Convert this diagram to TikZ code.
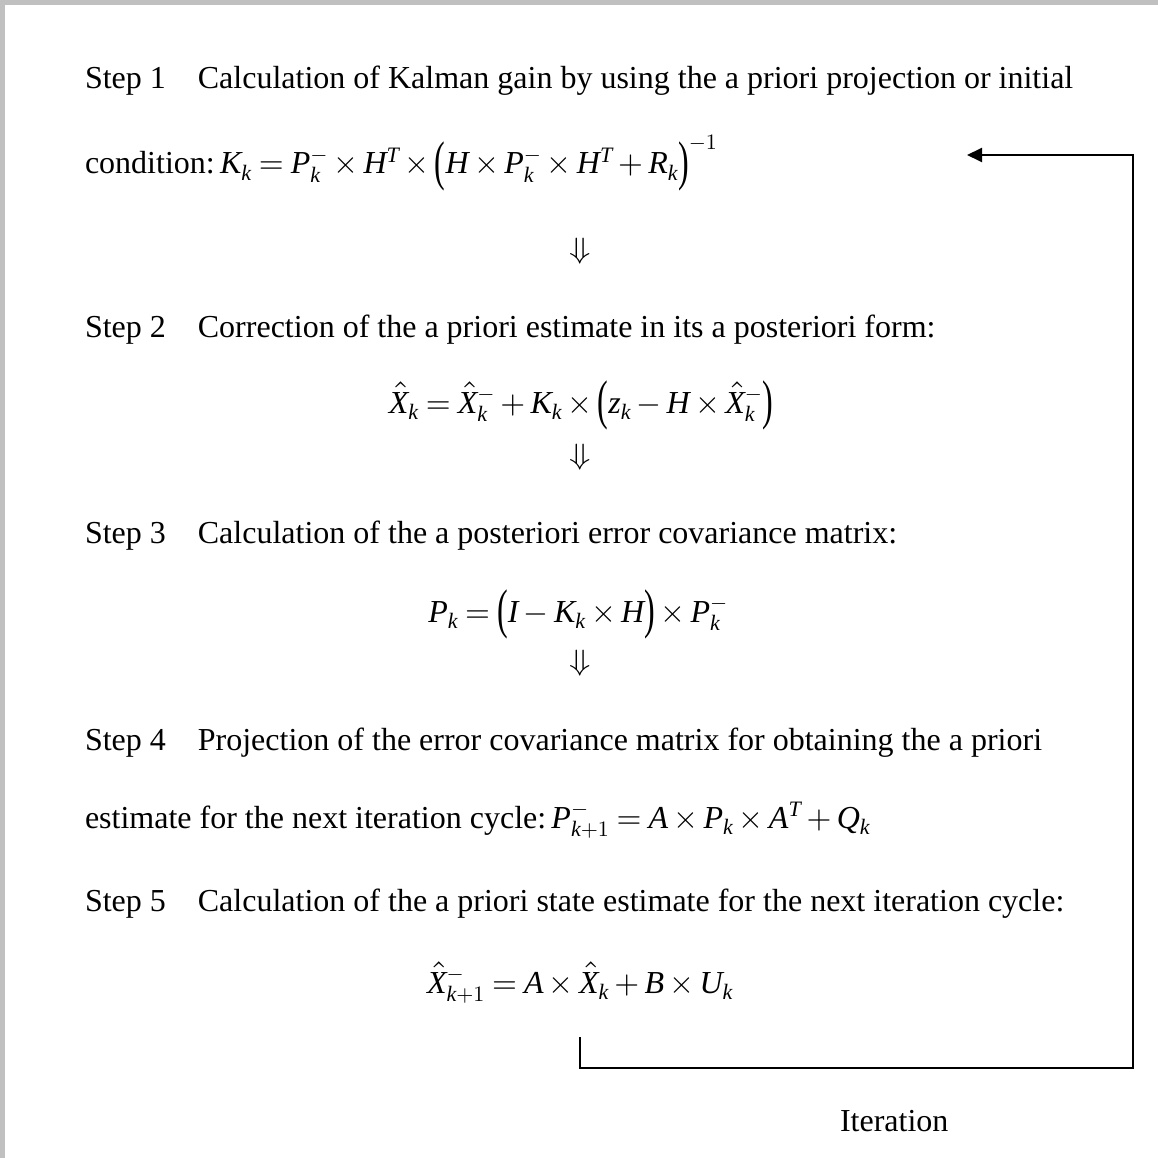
\documentclass[tikz,border=0pt]{standalone}
\usepackage{amsmath}
\usepackage{graphicx}
\usepackage{fontspec}
\setmainfont{Liberation Serif}[NFSSFamily=libser]
\DeclareSymbolFont{letters}{TU}{libser}{m}{it}
\DeclareFontShape{OMS}{cmsy}{m}{n}{<->cmsy10}{}
\DeclareFontShape{OT1}{cmr}{m}{n}{<->cmr10}{}
\DeclareFontShape{OML}{cmm}{m}{it}{<->cmmi10}{}
\DeclareMathSizes{32}{32}{22}{16}
\medmuskip=3mu plus 1mu minus 1mu
\thickmuskip=4mu plus 2mu
\everymath{\fontdimen16\textfont2=6.5pt \fontdimen17\textfont2=6.5pt }
\newcommand{\xhat}{\mathord{\ooalign{$X$\cr\hidewidth\kern4pt\smash{\raisebox{4pt}{\fontsize{40}{40}\usefont{OT1}{cmr}{m}{n}\char"5E}}\hidewidth\cr}}}
\newcommand{\lp}{\mathopen{\vcenter{\hbox{\scalebox{1}[1.7]{(}}}}}
\newcommand{\rp}{\mathclose{\vcenter{\hbox{\scalebox{1}[1.7]{)}}}}}
\newcommand{\dnarrow}{\scalebox{1.25}[1.05]{$\Downarrow$}}
\usetikzlibrary{arrows.meta}
\definecolor{framegray}{RGB}{192,192,192}
\begin{document}
\begin{tikzpicture}[x=1pt,y=-1pt,
  every node/.style={inner sep=0pt,outer sep=0pt,font=\fontsize{32}{38}\selectfont},
  txt/.style={anchor=base west},
  eqn/.style={anchor=base},
  darrow/.style={anchor=center,font=\fontsize{28}{34}\selectfont},
  flow/.style={line width=2pt,-{Triangle[length=15pt,width=14pt]}}]
\useasboundingbox (0,0) rectangle (1158,1158);
\fill[framegray] (0,0) rectangle (1158,5);
\fill[framegray] (0,0) rectangle (5,1158);

\node[txt] (s1) at (85,89) {Step 1\quad Calculation of Kalman gain by using the a priori projection or initial};
\node[txt] (s1b) at (85,174) {condition:\,$K_k = P_k^- \times H^T \times \lp H \times P_k^- \times H^T + R_k\rp^{-1}$};
\node[darrow] (d1) at (580,251) {\dnarrow};

\node[txt] (s2) at (85,337) {Step 2\quad Correction of the a priori estimate in its a posteriori form:};
\node[eqn] (e2) at (581,413) {$\xhat_k = \xhat_k^- + K_k \times \lp z_k - H \times \xhat_k^-\rp$};
\node[darrow] (d2) at (580,457) {\dnarrow};

\node[txt] (s3) at (85,543) {Step 3\quad Calculation of the a posteriori error covariance matrix:};
\node[eqn] (e3) at (578,622) {$P_k = \lp I - K_k \times H\rp \times P_k^-$};
\node[darrow] (d3) at (580,663) {\dnarrow};

\node[txt] (s4) at (85,750) {Step 4\quad Projection of the error covariance matrix for obtaining the a priori};
\node[txt] (s4b) at (85,828) {estimate for the next iteration cycle:\,$P_{k+1}^- = A \times P_k \times A^T + Q_k$};

\node[txt] (s5) at (85,911) {Step 5\quad Calculation of the a priori state estimate for the next iteration cycle:};
\node[eqn] (e5) at (580,993) {$\xhat_{k+1}^- = A \times \xhat_k + B \times U_k$};

\node[txt] (it) at (840,1131) {Iteration};

\coordinate (loopA) at (580,1037);
\coordinate (loopC) at (1133,1068);
\coordinate (loopB) at (967,155);
\draw[flow] (loopA) |- (loopC) |- (loopB);
\end{tikzpicture}
\end{document}
